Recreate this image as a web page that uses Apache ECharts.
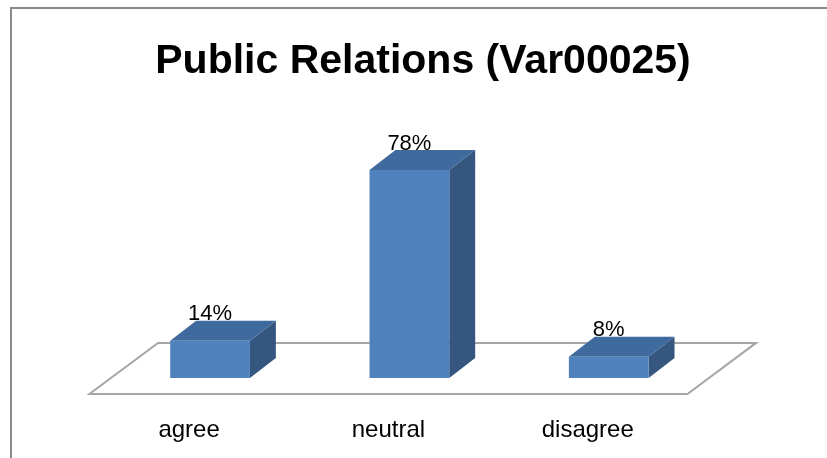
<!DOCTYPE html>
<html>
<head>
<meta charset="utf-8">
<script src="https://cdn.jsdelivr.net/npm/echarts@6/dist/echarts.min.js"></script>
<style>
  html, body { margin: 0; padding: 0; background: #ffffff; }
  #chart { width: 827px; height: 458px; }
</style>
</head>
<body>
<div id="chart"></div>
<script>
// Survey answers for Public Relations (Var00025), in percent
const categories = ['agree', 'neutral', 'disagree'];
const percentValues = [14, 78, 8];
const valueLabels = ['14%', '78%', '8%'];

const FONT = '"Liberation Sans", Arial, sans-serif';

// Extrusion of the 3-D boxes, as fractions of one category band
const BAR_WIDTH = 0.40;
const DEPTH_X = 0.13;
const DEPTH_Y = -0.10;

const FRONT = '#4f81bd';
const TOP = '#3f6a9e';
const SIDE = '#34567f';

// Floor plate under the boxes
function renderFloor(params, api) {
  const band = api.size([1, 0])[0];
  const base = api.coord([0, 0]);
  const left = base[0] - band / 2;
  const right = left + band * categories.length;
  const y = base[1];
  const fx = -0.105 * band, fy = 0.08 * band;   // front edge offset
  const bx = 0.239 * band, by = -0.176 * band;  // back edge offset
  return {
    type: 'polygon',
    shape: {
      points: [
        [left + fx, y + fy],
        [right + fx, y + fy],
        [right + bx, y + by],
        [left + bx, y + by]
      ]
    },
    style: { fill: '#ffffff', stroke: '#a6a6a6', lineWidth: 2 }
  };
}

// One extruded box per category
function renderBox(params, api) {
  const idx = api.value(0);
  const val = api.value(1);
  const band = api.size([1, 0])[0];
  const topPt = api.coord([idx, val]);
  const basePt = api.coord([idx, 0]);
  const w = band * BAR_WIDTH;
  const dx = band * DEPTH_X, dy = band * DEPTH_Y;
  const xl = topPt[0] - w / 2, xr = topPt[0] + w / 2;
  const yt = topPt[1], yb = basePt[1];
  return {
    type: 'group',
    children: [
      {
        type: 'polygon',
        shape: { points: [[xr, yt], [xr + dx, yt + dy], [xr + dx, yb + dy], [xr, yb]] },
        style: { fill: SIDE }
      },
      {
        type: 'polygon',
        shape: { points: [[xl, yt], [xr, yt], [xr + dx, yt + dy], [xl + dx, yt + dy]] },
        style: { fill: TOP }
      },
      {
        type: 'rect',
        shape: { x: xl, y: yt, width: w, height: yb - yt },
        style: { fill: FRONT }
      },
      {
        type: 'text',
        z2: 10,
        style: {
          x: topPt[0],
          y: yt - 0.133 * band,
          text: valueLabels[idx],
          align: 'center',
          verticalAlign: 'middle',
          fill: '#000000',
          font: '22px ' + FONT
        }
      }
    ]
  };
}

const chart = echarts.init(document.getElementById('chart'), null, { renderer: 'canvas' });

chart.setOption({
  backgroundColor: '#ffffff',
  animation: false,
  title: {
    text: 'Public Relations (Var00025)',
    left: 418,
    top: 36,
    textAlign: 'center',
    textStyle: { fontFamily: FONT, fontWeight: 'bold', fontSize: 41, color: '#000000' }
  },
  graphic: [{
    type: 'rect',
    shape: { x: 11, y: 8, width: 900, height: 600 },
    style: { fill: 'none', stroke: '#8a8a8a', lineWidth: 2 },
    silent: true
  }],
  grid: { left: 110.4, width: 598, top: 111.3, bottom: 80 },
  xAxis: {
    type: 'category',
    data: categories,
    axisLine: { show: false },
    axisTick: { show: false },
    axisLabel: {
      margin: 40,
      padding: [0, 42, 0, 0],
      fontFamily: FONT,
      fontSize: 24,
      color: '#000000'
    }
  },
  yAxis: {
    type: 'value',
    min: 0, max: 100,
    show: false,
    splitLine: { show: false }
  },
  series: [
    {
      type: 'custom',
      renderItem: renderFloor,
      data: [[0, 0]],
      z: 1,
      silent: true
    },
    {
      type: 'custom',
      renderItem: renderBox,
      data: percentValues.map((v, i) => [i, v]),
      encode: { x: 0, y: 1 },
      z: 2
    }
  ]
});
</script>
</body>
</html>
